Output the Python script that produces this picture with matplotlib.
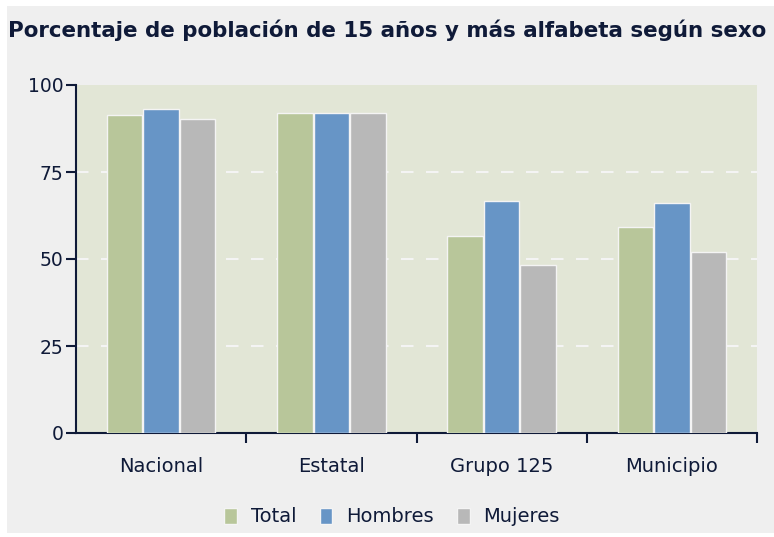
"""
Porcentaje de población de 15 años y más alfabeta según sexo
"""
import numpy as np
import matplotlib
matplotlib.use("Agg")
import matplotlib.pyplot as plt
from matplotlib.patches import Rectangle

categorias = ["Nacional", "Estatal", "Grupo 125", "Municipio"]
series = ["Total", "Hombres", "Mujeres"]
total = [91.4, 92.0, 56.7, 59.2]
hombres = [93.1, 92.0, 66.6, 66.0]
mujeres = [90.1, 92.0, 48.2, 51.9]
colores = ["#b8c69a", "#6795c6", "#b8b8b8"]
ticks_y = [0, 25, 50, 75, 100]

plt.rcParams['font.family'] = ['DejaVu Sans']
texto = "#0f1a38"

fig = plt.figure(figsize=(7.74, 5.37), dpi=100)
fig.patch.set_facecolor("white")
fig.patches.append(Rectangle((7 / 774, 4 / 537), 767 / 774, 527 / 537,
                             transform=fig.transFigure, facecolor="#efefef",
                             edgecolor="none", zorder=-1))

ax = fig.add_axes([76 / 774, 104 / 537, 681 / 774, 348 / 537])
ax.set_zorder(1)
ax.set_facecolor("#e2e6d6")

x = np.arange(len(categorias)) + 0.5
w = 0.215
for i, (vals, c) in enumerate(zip([total, hombres, mujeres], colores)):
    ax.bar(x + (i - 1) * w, vals, w * 0.97, color=c, edgecolor="#f4f4f4",
           linewidth=1.0, label=series[i], zorder=3)

# rejilla discontinua solo en los valores intermedios
for v in ticks_y[1:-1]:
    ax.axhline(v, color="#f4f4f4", linestyle=(0, (6, 6)), linewidth=1.5, zorder=1)

ax.set_xlim(0, 4)
ax.set_ylim(0, 100)
ax.set_yticks(ticks_y)
ax.set_xticks(np.arange(1, 5))
ax.set_xticklabels([])
ax.set_xticks(x, minor=True)
ax.set_xticklabels(categorias, minor=True)
ax.tick_params(axis="x", which="minor", length=0, pad=17, labelsize=14, labelcolor=texto)
ax.tick_params(axis="x", which="major", length=7, width=1.5, color=texto)
ax.tick_params(axis="y", length=7, width=1.5, color=texto, labelsize=13.5, labelcolor=texto, pad=2)

for s in ["top", "right"]:
    ax.spines[s].set_visible(False)
for s in ["left", "bottom"]:
    ax.spines[s].set_color(texto)
    ax.spines[s].set_linewidth(1.5)
ax.spines["bottom"].set_zorder(2)

fig.text(8 / 774, 1 - 30 / 537, "Porcentaje de población de 15 años y más alfabeta según sexo",
         fontsize=15.4, fontweight="bold", color=texto, va="center", ha="left")

leg = fig.legend(loc="center", bbox_to_anchor=(392 / 774, 1 - 517 / 537), ncol=3,
                 frameon=False, fontsize=14, handlelength=0.65, handleheight=0.85,
                 handletextpad=0.7, columnspacing=1.2, labelcolor=texto)

fig.savefig("out.png", dpi=100)
